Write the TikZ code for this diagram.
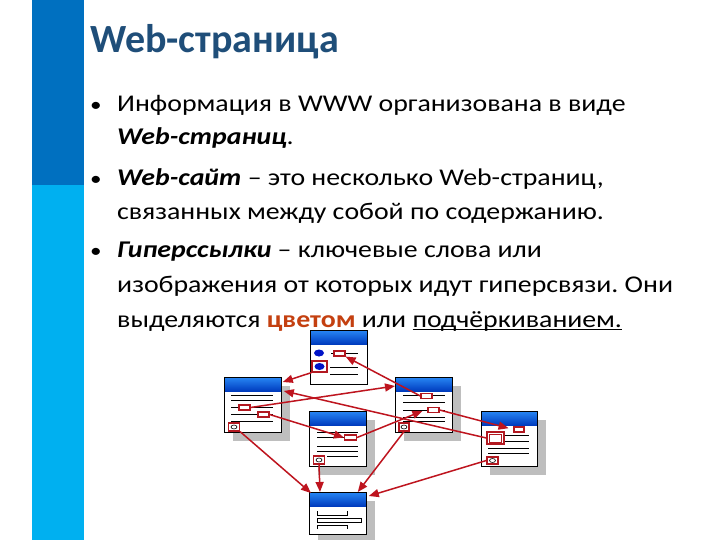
\documentclass[tikz,border=0pt]{standalone}
\usepackage{fontspec}
\setmainfont{Carlito}[FakeStretch=1.16]
\newfontfamily\titlefont{Carlito}
\usetikzlibrary{arrows.meta,shadows,calc}
\definecolor{bardark}{RGB}{0,112,192}
\definecolor{barlight}{RGB}{0,176,240}
\definecolor{titleblue}{RGB}{31,78,121}
\definecolor{linkred}{RGB}{178,24,32}
\definecolor{arrred}{RGB}{190,20,30}
\definecolor{hotword}{RGB}{196,64,16}
\definecolor{shadowgray}{RGB}{190,190,190}
\definecolor{hdrtop}{RGB}{40,135,245}
\definecolor{hdrbot}{RGB}{0,60,190}
\definecolor{dotblue}{RGB}{0,20,200}
\newcommand\myuline[1]{\setbox0\hbox{#1}\rlap{\rule[-3.2pt]{\wd0}{1.1pt}}\box0}
\newcommand\pghdr[1]{%
  \shade[top color=hdrtop,bottom color=hdrbot] (#1.north west) rectangle ($(#1.north east)+(0,14)$);
  \draw[line width=0.8pt] (#1.north west) rectangle (#1.south east);}
\frenchspacing
\begin{document}
\begin{tikzpicture}[x=1pt,y=-1pt,
  pagebase/.style={draw=black,line width=0.8pt,fill=white,anchor=north west,inner sep=0pt,
    minimum width=57pt,minimum height=55pt},
  webpage/.style={pagebase,drop shadow={shadow xshift=9pt,shadow yshift=-9pt,fill=shadowgray,opacity=1}},
  hlink/.style={draw=linkred,line width=1.2pt,fill=white,inner sep=0pt},
  pline/.style={draw=black,line width=0.8pt},
  arr/.style={draw=arrred,line width=1.5pt,-{Triangle[length=10pt,width=8pt]}},
  txt/.style={anchor=base west,inner sep=0pt,font=\fontsize{24}{29}\selectfont},
  bul/.style={anchor=base,inner sep=0pt,font=\fontsize{20}{24}\selectfont}]
\useasboundingbox (0,0) rectangle (720,540);
\fill[white] (0,0) rectangle (720,540);
\fill[bardark] (32,0) rectangle (84,185);
\fill[barlight] (32,185) rectangle (84,540);

\node[anchor=base west,inner sep=0pt,font=\titlefont\fontsize{40}{46}\selectfont\bfseries,text=titleblue] (title) at (90,53) {Web-страница};

\node[bul] (u1) at (96,112) {•};
\node[bul] (u2) at (96,186) {•};
\node[bul] (u3) at (96,257) {•};
\node[txt] (t1) at (117,112) {Информация в WWW организована в виде};
\node[txt] (t2) at (117,145) {\textbf{\textit{Web-страниц}}.};
\node[txt] (t3) at (117,186) {\textbf{\textit{Web-сайт}} – это несколько Web-страниц,};
\node[txt] (t4) at (117,219) {связанных между собой по содержанию.};
\node[txt] (t5) at (117,257) {\textbf{\textit{Гиперссылки}} – ключевые слова или};
\node[txt] (t6) at (117,292) {изображения от которых идут гиперсвязи. Они};
\node[txt] (t7) at (117,327) {выделяются \textcolor{hotword}{\textbf{цветом}} или \myuline{подчёркиванием.}};

% pages
\node[pagebase,minimum height=54pt] (A) at (310,330) {};
\node[webpage] (B) at (224,377) {};
\node[webpage] (C) at (309,411) {};
\node[webpage] (D) at (395,377) {};
\node[webpage,minimum width=56pt] (E) at (481,411) {};
\node[webpage,minimum height=42pt] (F) at (309,492) {};
\pghdr{A}\pghdr{B}\pghdr{C}\pghdr{D}\pghdr{E}\pghdr{F}

% page A
\fill[dotblue] (319,353) ellipse [x radius=5,y radius=3.5];
\draw[pline] (331,353) -- (358,353);
\draw[pline] (330,367) -- (358,367);
\draw[pline] (330,374) -- (358,374);
\node[hlink,minimum width=11pt,minimum height=5pt] (a1) at (339.5,353.5) {};
\node[hlink,minimum width=15pt,minimum height=11pt] (a2) at (319.5,366.5) {};
\fill[dotblue] (319.5,366.5) ellipse [x radius=5,y radius=3.5];

% page B
\foreach \yy in {395,400,407,414,421} \draw[pline] (231,\yy) -- (273,\yy);
\node[hlink,minimum width=11pt,minimum height=5pt] (b1) at (244.5,407.5) {};
\node[hlink,minimum width=11pt,minimum height=5pt] (b2) at (263.5,414.5) {};
\node[hlink,minimum width=11pt,minimum height=8pt] (b3) at (234,427) {};
\draw[black,fill=white,line width=0.6pt] (234,427) ellipse [x radius=3,y radius=2];

% page C
\foreach \yy in {432,437,446,451} \draw[pline] (317,\yy) -- (358,\yy);
\draw[pline] (327,456) -- (358,456);
\node[hlink,minimum width=12pt,minimum height=5pt] (c1) at (350.5,437.5) {};
\node[hlink,minimum width=11pt,minimum height=8pt] (c2) at (319,460) {};
\draw[black,fill=white,line width=0.6pt] (319,460) ellipse [x radius=3,y radius=2];

% page D
\foreach \yy in {395,402,410,417,421} \draw[pline] (403,\yy) -- (445,\yy);
\node[hlink,minimum width=11pt,minimum height=5pt] (d1) at (426.5,396) {};
\node[hlink,minimum width=11pt,minimum height=5pt] (d2) at (433.5,410) {};
\node[hlink,minimum width=10pt,minimum height=8pt] (d3) at (404,427) {};
\draw[black,fill=white,line width=0.6pt] (404,427) ellipse [x radius=3,y radius=2];

% page E
\draw[pline] (505,435) -- (529,435);
\draw[pline] (505,441) -- (529,441);
\draw[pline] (488,448) -- (529,448);
\draw[pline] (488,453) -- (529,453);
\node[hlink,minimum width=10pt,minimum height=5pt] (e1) at (519,429.5) {};
\node[hlink,minimum width=17pt,minimum height=12pt] (e2) at (495.5,438) {};
\draw[linkred,line width=0.6pt] (489.5,434) rectangle (501.5,442);
\node[hlink,minimum width=11pt,minimum height=7pt] (e3) at (492.5,460.5) {};
\draw[black,fill=white,line width=0.6pt] (492.5,460.5) ellipse [x radius=3,y radius=2];

% page F
\draw[pline] (317,511) -- (317,515) -- (347,515) -- (347,511);
\draw[pline] (317,518) rectangle (361,522);
\draw[pline] (317,529) -- (317,525) -- (347,525) -- (347,529);

% hyperlinks
\draw[arr] (a2.south west) -- ($(B.north east)+(1,5)$);
\draw[arr] (d1.west) -- (a1.south east);
\draw[arr] (b1.east) -- ($(D.north west)+(0,9)$);
\draw[arr] (e2.west) -- ($(B.north east)+(2,14)$);
\draw[arr] (b2.east) -- (c1.west);
\draw[arr] (c1.east) -- ($(d2.west)+(-5,1)$);
\draw[arr,shorten >=5pt] (d2.east) -- (e1.west);
\draw[arr] (b3.south east) -- ($(F.north west)+(2,1)$);
\draw[arr] (c2.south) -- ($(F.north west)+(11,0)$);
\draw[arr] (d3.south) -- ($(F.north east)+(-9,0)$);
\draw[arr] (e3.west) -- ($(F.north east)+(2,4)$);
\end{tikzpicture}
\end{document}
